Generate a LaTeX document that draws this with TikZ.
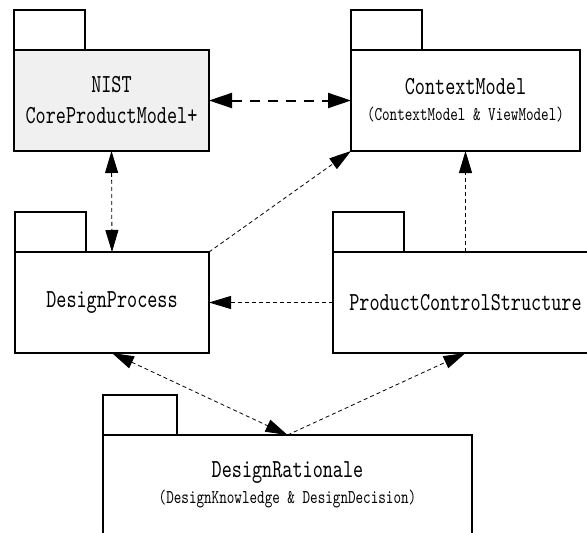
\documentclass[tikz,border=0pt]{standalone}
\usepackage{fontspec}
\newfontfamily\pkgfont[FakeStretch=0.74]{lmmono10-regular.otf}
\usetikzlibrary{arrows.meta}
\definecolor{nistfill}{RGB}{240,240,240}
\begin{document}
\begin{tikzpicture}[x=1pt,y=-1pt,
  body/.style={draw, line width=1.5pt, inner sep=0pt, outer sep=0pt,
    anchor=north west, align=center, minimum height=101pt,
    font=\pkgfont\fontsize{26}{32}\selectfont},
  tabbox/.style={draw, line width=1.5pt, inner sep=0pt, outer sep=0pt,
    anchor=south west, minimum width=71pt, minimum height=40pt},
  thin/.style={line width=0.8pt, dash pattern=on 4pt off 3pt},
  thick/.style={line width=2pt, dash pattern=on 10pt off 8pt},
  tip/.tip={Triangle[length=22pt,width=13pt]},
  bigtip/.tip={Triangle[length=23pt,width=15pt]}
]
\useasboundingbox (0,0) rectangle (587,533);
\clip (0,0) rectangle (587,533);
\fill[white] (0,0) rectangle (587,533);

% packages
\node[body, fill=nistfill, minimum width=195pt] (nist) at (14,50)
  {NIST\\[-1pt]CoreProductModel+};
\node[tabbox] (nisttab) at (nist.north west) {};

\node[body, minimum width=229pt] (cm) at (351,50)
  {ContextModel\\[-6pt]{\pkgfont\fontsize{19.5}{22}\selectfont (ContextModel \& ViewModel)}};
\node[tabbox] (cmtab) at (cm.north west) {};

\node[body, minimum width=194pt] (dp) at (15,252) {DesignProcess};
\node[tabbox] (dptab) at (dp.north west) {};

\node[body, minimum width=265pt] (pcs) at (333,252) {ProductControlStructure};
\node[tabbox] (pcstab) at (pcs.north west) {};

\node[body, minimum width=369pt, minimum height=100pt] (dr) at (103,435)
  {DesignRationale\\[-6pt]{\pkgfont\fontsize{19.5}{22}\selectfont (DesignKnowledge \& DesignDecision)}};
\node[tabbox, minimum width=74pt] (drtab) at (dr.north west) {};

% connectors
\draw[thick, bigtip-bigtip] (nist.east) -- (cm.west);
\draw[thin, tip-tip] (nist.south) -- (dp.north);
\draw[thin, -tip] (dp.north east) -- (cm.south west);
\draw[thin, -tip] (pcs.north) -- (cm.south -| pcs.north);
\draw[thin, -tip] (pcs.west) -- (dp.east);
\draw[thin, tip-tip] (dp.south) -- (dr.north);
\draw[thin, -tip] (dr.north) -- (pcs.south);
\end{tikzpicture}
\end{document}
